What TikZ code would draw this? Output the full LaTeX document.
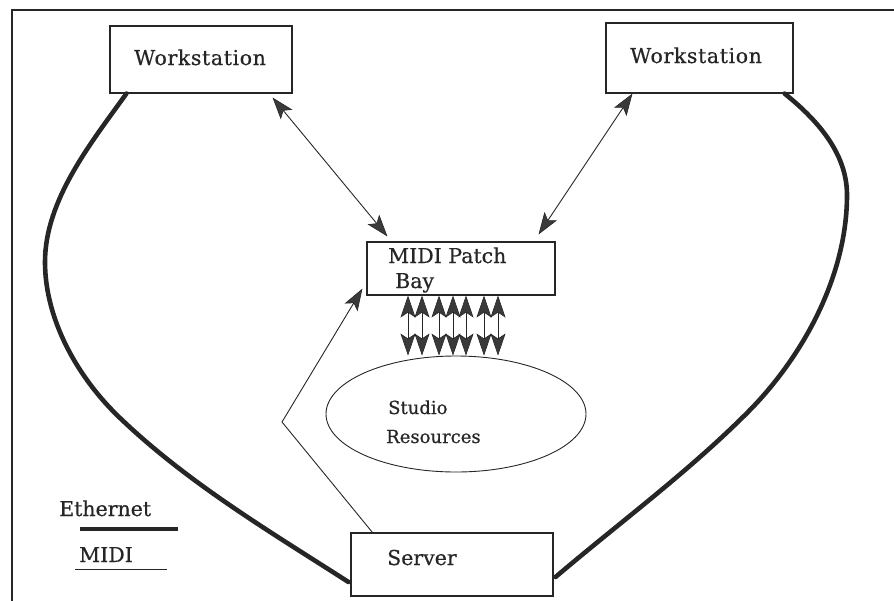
\documentclass[tikz,border=0pt]{standalone}
\usepackage{fontspec}
\setmainfont{DejaVu Serif}[FakeBold=0.6]
\usetikzlibrary{shapes.geometric,arrows.meta,calc}

\definecolor{ink}{HTML}{262626}
\definecolor{headgray}{HTML}{3A3A3A}

\tikzset{
  unitbox/.style={draw=ink, line width=1.1pt, rectangle, inner sep=0pt},
  label/.style={anchor=base west, inner sep=0pt, text=ink,
                font=\fontsize{20.5}{24}\selectfont},
  small label/.style={label, font=\fontsize{18}{21}\selectfont},
  ethernet/.style={draw=ink, line width=4.6pt, line cap=round},
  midi/.style={draw=ink, line width=0.9pt},
  bighead/.tip={Stealth[length=22pt, width=15pt, inset=5pt, fill=headgray, color=ink, line width=0.6pt]},
  midiboth/.style={midi, bighead-bighead},
  midione/.style={midi, -bighead},
}

\begin{document}
\begin{tikzpicture}[x=1pt, y=-1pt]
  \useasboundingbox (0,0) rectangle (894,600);
  \clip (0,0) rectangle (894,600);

  % outer frame
  \draw[ink, line width=1.8pt] (12,604) -- (12,10) -- (900,10);

  % boxes
  \node[unitbox, minimum width=182pt, minimum height=67pt] (wsl) at (201,59.5) {};
  \node[unitbox, minimum width=187pt, minimum height=70pt] (wsr) at (699.5,58) {};
  \node[unitbox, minimum width=188pt, minimum height=53pt] (mb)  at (461,268.5) {};
  \node[unitbox, minimum width=202pt, minimum height=63pt] (srv) at (452,564.5) {};
  \node[draw=ink, line width=0.9pt, ellipse, inner sep=0pt,
        minimum width=260pt, minimum height=116pt] (st) at (456,414) {};

  % box texts
  \node[label] (twsl) at (134,65) {\addfontfeature{LetterSpace=3}Workstation};
  \node[label] (twsr) at (630,63) {\addfontfeature{LetterSpace=3}Workstation};
  \node[label] (tmb1) at (388,263) {MIDI Patch};
  \node[label] (tmb2) at (395,288) {Bay};
  \node[small label] (tst1) at (388,414) {Studio};
  \node[small label] (tst2) at (386,443) {Resources};
  \node[label] (tsrv) at (387,565) {Server};

  % Ethernet links
  \coordinate (eLa) at ($(wsl.south west)+(17,0)$);
  \coordinate (eLb) at ($(srv.west)+(-2,17.5)$);
  \draw[ethernet] (eLa)
      .. controls (91,143) and (45,200) .. (45,262)
      .. controls (45,320) and (78,378) .. (120,418)
      .. controls (188,483) and (269,531) .. (eLb);

  \coordinate (eRa) at ($(wsr.south east)+(-9,0)$);
  \coordinate (eRb) at ($(srv.east)+(2,12.5)$);
  \draw[ethernet] (eRa)
      .. controls (820,122) and (847,155) .. (847,195)
      .. controls (847,275) and (804,356) .. (747,413)
      .. controls (687,473) and (619,523) .. (eRb);

  % MIDI links
  \draw[midiboth] ($(wsl.south east)+(-20,4)$) -- ($(mb.north west)+(21,-5)$);
  \draw[midiboth] ($(wsr.south west)+(27,0)$) -- ($(mb.north east)+(-17,-7)$);
  \coordinate (bend) at (282,422);
  \draw[midione] ($(srv.north west)+(22,0)$) -- (bend) -- ($(mb.south west)+(-4,-7)$);

  % patch bay to studio resources
  \foreach \px in {408,422,439,453,466,484,498}{
    \draw[midiboth] (\px,0 |- mb.south) -- (\px,0 |- st.north);
  }

  % legend
  \node[label] (leth) at (59,516) {Ethernet};
  \coordinate (leta) at (80,529);
  \coordinate (letb) at (178,529);
  \draw[draw=ink, line width=4.2pt] (leta) -- (letb);
  \node[label] (lmidi) at (79,562) {MIDI};
  \coordinate (lmia) at (75,569);
  \coordinate (lmib) at (167,569);
  \draw[midi] (lmia) -- (lmib);
\end{tikzpicture}
\end{document}
